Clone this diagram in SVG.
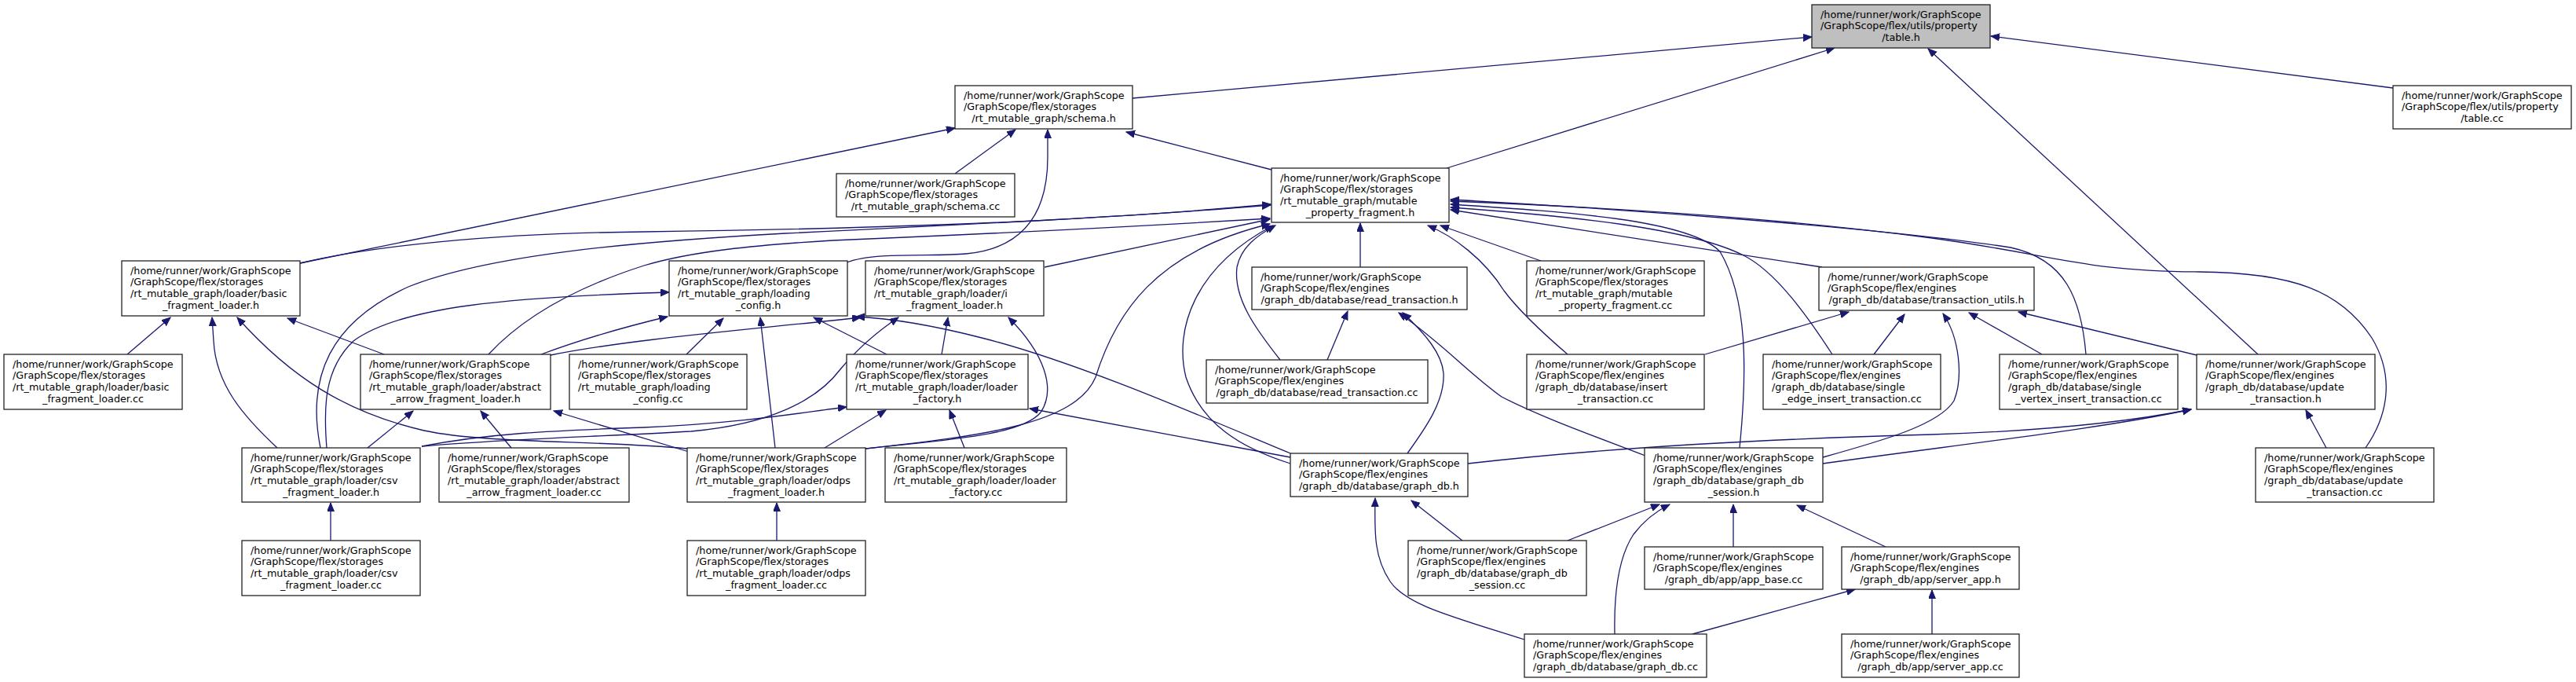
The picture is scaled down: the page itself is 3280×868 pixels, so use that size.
<svg xmlns="http://www.w3.org/2000/svg" width="3280" height="868" viewBox="0 0 3280 868">
<style>
.node rect{fill:#fff;stroke:#222;stroke-width:1.3}
.node.cur rect{fill:#bfbfbf}
text{font-family:"DejaVu Sans",sans-serif;font-size:12.75px;fill:#000}
text.c{text-anchor:middle}
.edges path{fill:none;stroke:#191970;stroke-width:1.3;marker-end:url(#ah)}
</style>
<defs>
<marker id="ah" markerUnits="userSpaceOnUse" markerWidth="12" markerHeight="10" refX="11" refY="4.5" orient="auto">
<path d="M0,0 L11,4.5 L0,9 z" fill="#191970" stroke="#191970" stroke-width="1"/>
</marker>
</defs>
<rect width="3280" height="868" fill="#fff"/>
<g class="edges" id="edges">
<path d="M1442,125 L2307,47"/>
<path d="M1842,214 L2336,61"/>
<path d="M2875,451 L2455,62"/>
<path d="M3047,112 L2535,46"/>
<path d="M382,335 L1216,163"/>
<path d="M1216,221 L1293,165"/>
<path d="M1078,334 C1115,320 1190,327 1230,323 C1305,316 1334,270 1334,200 L1334,165"/>
<path d="M1619,216 L1434,168"/>
<path d="M382,335 C470,314 620,297 820,295 C1050,292 1350,285 1618,260"/>
<path d="M408,570 C390,480 420,410 520,365 C620,325 800,308 1000,297 C1250,285 1450,275 1618,261"/>
<path d="M622,451 C660,410 720,370 820,338 C880,320 960,312 1060,306 C1300,296 1450,288 1617,278"/>
<path d="M1330,340 L1617,279"/>
<path d="M1732,340 L1732,284"/>
<path d="M1962,332 L1834,287"/>
<path d="M1630,458 C1600,420 1570,380 1575,340 C1580,315 1600,300 1624,287"/>
<path d="M1643,590 C1580,570 1530,540 1510,480 C1495,420 1520,340 1621,287"/>
<path d="M1102,571 C1250,555 1370,540 1395,480 C1420,400 1470,320 1617,285"/>
<path d="M1996,451 C1960,420 1930,390 1915,370 C1890,330 1850,300 1818,287"/>
<path d="M2215,570 C2225,470 2225,380 2190,320 C2150,280 2000,270 1847,260"/>
<path d="M2333,451 C2300,400 2260,345 2220,325 C2150,290 2000,275 1847,264"/>
<path d="M2656,451 C2650,380 2630,330 2560,315 C2400,290 2050,265 1847,254"/>
<path d="M3012,570 C3040,530 3050,480 3020,430 C2980,370 2920,347 2800,346 C2650,345 2620,325 2460,303 C2250,275 2000,262 1847,256"/>
<path d="M2320,340 L1847,267"/>
<path d="M162,451 L217,404"/>
<path d="M353,570 C310,530 275,490 272,434 L270,404"/>
<path d="M875,571 C760,560 620,565 540,548 C440,525 370,480 302,404"/>
<path d="M489,451 L366,405"/>
<path d="M689,451 C740,432 800,415 850,403"/>
<path d="M701,452 C800,432 950,420 1096,404"/>
<path d="M416,570 C412,520 412,470 450,434 C510,390 650,378 852,372"/>
<path d="M874,451 L921,405"/>
<path d="M987,570 L968,404"/>
<path d="M1129,451 L1036,404"/>
<path d="M1643,577 C1530,530 1370,460 1250,430 C1180,412 1130,405 1090,403"/>
<path d="M537,568 C650,558 760,556 880,549 C980,540 1040,510 1070,470 C1095,440 1120,420 1144,404"/>
<path d="M1199,451 L1207,404"/>
<path d="M1102,571 C1200,560 1300,555 1325,525 C1345,495 1330,450 1284,404"/>
<path d="M468,570 L526,523"/>
<path d="M651,570 L612,523"/>
<path d="M877,575 L705,523"/>
<path d="M537,568 C620,552 700,548 820,544 C950,538 1020,525 1078,518"/>
<path d="M1050,570 L1128,522"/>
<path d="M1228,570 L1209,522"/>
<path d="M1643,582 L1311,520"/>
<path d="M421,688 L421,640"/>
<path d="M989,688 L989,640"/>
<path d="M1690,458 L1716,396"/>
<path d="M1792,577 C1815,545 1840,510 1838,475 C1836,450 1815,425 1786,398"/>
<path d="M2095,580 C2030,555 1960,530 1912,505 C1870,475 1840,440 1781,398"/>
<path d="M2171,451 L2354,397"/>
<path d="M2386,451 L2425,400"/>
<path d="M2321,582 C2400,560 2470,540 2488,510 C2500,480 2495,430 2474,399"/>
<path d="M2600,451 L2507,398"/>
<path d="M2797,452 L2570,397"/>
<path d="M1869,590 C2000,575 2200,560 2460,553 C2620,548 2720,535 2790,521"/>
<path d="M2321,590 C2500,565 2680,545 2790,521"/>
<path d="M2962,570 L2936,522"/>
<path d="M1862,688 L1797,637"/>
<path d="M1941,814 C1850,785 1790,770 1770,740 C1750,710 1750,680 1751,634"/>
<path d="M1996,688 L2113,642"/>
<path d="M2056,807 C2055,760 2060,710 2080,680 C2095,660 2110,650 2126,642"/>
<path d="M2207,696 L2207,642"/>
<path d="M2401,696 L2288,643"/>
<path d="M2155,807 L2362,750"/>
<path d="M2460,807 L2460,751"/>
</g>
<g id="table_h" class="node cur"><rect x="2307" y="6" width="227" height="55"/><text x="2318" y="22.5">/home/runner/work/GraphScope</text><text x="2318" y="37.2">/GraphScope/flex/utils/property</text><text class="c" x="2420.5" y="51.8">/table.h</text></g>
<g id="schema_h" class="node"><rect x="1216" y="109" width="226" height="55"/><text x="1227" y="125.5">/home/runner/work/GraphScope</text><text x="1227" y="140.2">/GraphScope/flex/storages</text><text class="c" x="1329" y="154.8">/rt_mutable_graph/schema.h</text></g>
<g id="table_cc" class="node"><rect x="3047" y="109" width="227" height="55"/><text x="3058" y="125.5">/home/runner/work/GraphScope</text><text x="3058" y="140.2">/GraphScope/flex/utils/property</text><text class="c" x="3160.5" y="154.8">/table.cc</text></g>
<g id="schema_cc" class="node"><rect x="1065" y="221" width="227" height="55"/><text x="1076" y="237.5">/home/runner/work/GraphScope</text><text x="1076" y="252.2">/GraphScope/flex/storages</text><text class="c" x="1178.5" y="266.8">/rt_mutable_graph/schema.cc</text></g>
<g id="mutable_property_fragment_h" class="node"><rect x="1619" y="214" width="226" height="69"/><text x="1630" y="230.5">/home/runner/work/GraphScope</text><text x="1630" y="245.2">/GraphScope/flex/storages</text><text x="1630" y="259.8">/rt_mutable_graph/mutable</text><text class="c" x="1732" y="274.5">_property_fragment.h</text></g>
<g id="basic_fragment_loader_h" class="node"><rect x="155" y="332" width="227" height="70"/><text x="166" y="348.5">/home/runner/work/GraphScope</text><text x="166" y="363.2">/GraphScope/flex/storages</text><text x="166" y="377.8">/rt_mutable_graph/loader/basic</text><text class="c" x="268.5" y="392.5">_fragment_loader.h</text></g>
<g id="loading_config_h" class="node"><rect x="852" y="332" width="227" height="70"/><text x="863" y="348.5">/home/runner/work/GraphScope</text><text x="863" y="363.2">/GraphScope/flex/storages</text><text x="863" y="377.8">/rt_mutable_graph/loading</text><text class="c" x="965.5" y="392.5">_config.h</text></g>
<g id="i_fragment_loader_h" class="node"><rect x="1102" y="332" width="227" height="70"/><text x="1113" y="348.5">/home/runner/work/GraphScope</text><text x="1113" y="363.2">/GraphScope/flex/storages</text><text x="1113" y="377.8">/rt_mutable_graph/loader/i</text><text class="c" x="1215.5" y="392.5">_fragment_loader.h</text></g>
<g id="read_transaction_h" class="node"><rect x="1594" y="340" width="274" height="54"/><text x="1605" y="356.5">/home/runner/work/GraphScope</text><text x="1605" y="371.2">/GraphScope/flex/engines</text><text class="c" x="1731" y="385.8">/graph_db/database/read_transaction.h</text></g>
<g id="mutable_property_fragment_cc" class="node"><rect x="1944" y="332" width="226" height="70"/><text x="1955" y="348.5">/home/runner/work/GraphScope</text><text x="1955" y="363.2">/GraphScope/flex/storages</text><text x="1955" y="377.8">/rt_mutable_graph/mutable</text><text class="c" x="2057" y="392.5">_property_fragment.cc</text></g>
<g id="transaction_utils_h" class="node"><rect x="2316" y="340" width="274" height="55"/><text x="2327" y="356.5">/home/runner/work/GraphScope</text><text x="2327" y="371.2">/GraphScope/flex/engines</text><text class="c" x="2453" y="385.8">/graph_db/database/transaction_utils.h</text></g>
<g id="basic_fragment_loader_cc" class="node"><rect x="5" y="451" width="227" height="70"/><text x="16" y="467.5">/home/runner/work/GraphScope</text><text x="16" y="482.2">/GraphScope/flex/storages</text><text x="16" y="496.8">/rt_mutable_graph/loader/basic</text><text class="c" x="118.5" y="511.5">_fragment_loader.cc</text></g>
<g id="abstract_arrow_fragment_loader_h" class="node"><rect x="459" y="451" width="242" height="70"/><text x="470" y="467.5">/home/runner/work/GraphScope</text><text x="470" y="482.2">/GraphScope/flex/storages</text><text x="470" y="496.8">/rt_mutable_graph/loader/abstract</text><text class="c" x="580" y="511.5">_arrow_fragment_loader.h</text></g>
<g id="loading_config_cc" class="node"><rect x="725" y="451" width="226" height="70"/><text x="736" y="467.5">/home/runner/work/GraphScope</text><text x="736" y="482.2">/GraphScope/flex/storages</text><text x="736" y="496.8">/rt_mutable_graph/loading</text><text class="c" x="838" y="511.5">_config.cc</text></g>
<g id="loader_factory_h" class="node"><rect x="1078" y="451" width="231" height="70"/><text x="1089" y="467.5">/home/runner/work/GraphScope</text><text x="1089" y="482.2">/GraphScope/flex/storages</text><text x="1089" y="496.8">/rt_mutable_graph/loader/loader</text><text class="c" x="1193.5" y="511.5">_factory.h</text></g>
<g id="read_transaction_cc" class="node"><rect x="1536" y="458" width="282" height="55"/><text x="1547" y="474.5">/home/runner/work/GraphScope</text><text x="1547" y="489.2">/GraphScope/flex/engines</text><text class="c" x="1677" y="503.8">/graph_db/database/read_transaction.cc</text></g>
<g id="insert_transaction_cc" class="node"><rect x="1944" y="451" width="226" height="70"/><text x="1955" y="467.5">/home/runner/work/GraphScope</text><text x="1955" y="482.2">/GraphScope/flex/engines</text><text x="1955" y="496.8">/graph_db/database/insert</text><text class="c" x="2057" y="511.5">_transaction.cc</text></g>
<g id="single_edge_insert_transaction_cc" class="node"><rect x="2245" y="451" width="226" height="70"/><text x="2256" y="467.5">/home/runner/work/GraphScope</text><text x="2256" y="482.2">/GraphScope/flex/engines</text><text x="2256" y="496.8">/graph_db/database/single</text><text class="c" x="2358" y="511.5">_edge_insert_transaction.cc</text></g>
<g id="single_vertex_insert_transaction_cc" class="node"><rect x="2546" y="451" width="227" height="70"/><text x="2557" y="467.5">/home/runner/work/GraphScope</text><text x="2557" y="482.2">/GraphScope/flex/engines</text><text x="2557" y="496.8">/graph_db/database/single</text><text class="c" x="2659.5" y="511.5">_vertex_insert_transaction.cc</text></g>
<g id="update_transaction_h" class="node"><rect x="2797" y="451" width="227" height="70"/><text x="2808" y="467.5">/home/runner/work/GraphScope</text><text x="2808" y="482.2">/GraphScope/flex/engines</text><text x="2808" y="496.8">/graph_db/database/update</text><text class="c" x="2910.5" y="511.5">_transaction.h</text></g>
<g id="csv_fragment_loader_h" class="node"><rect x="308" y="570" width="227" height="69"/><text x="319" y="586.5">/home/runner/work/GraphScope</text><text x="319" y="601.2">/GraphScope/flex/storages</text><text x="319" y="615.8">/rt_mutable_graph/loader/csv</text><text class="c" x="421.5" y="630.5">_fragment_loader.h</text></g>
<g id="abstract_arrow_fragment_loader_cc" class="node"><rect x="559" y="570" width="242" height="69"/><text x="570" y="586.5">/home/runner/work/GraphScope</text><text x="570" y="601.2">/GraphScope/flex/storages</text><text x="570" y="615.8">/rt_mutable_graph/loader/abstract</text><text class="c" x="680" y="630.5">_arrow_fragment_loader.cc</text></g>
<g id="odps_fragment_loader_h" class="node"><rect x="875" y="570" width="227" height="69"/><text x="886" y="586.5">/home/runner/work/GraphScope</text><text x="886" y="601.2">/GraphScope/flex/storages</text><text x="886" y="615.8">/rt_mutable_graph/loader/odps</text><text class="c" x="988.5" y="630.5">_fragment_loader.h</text></g>
<g id="loader_factory_cc" class="node"><rect x="1127" y="570" width="231" height="69"/><text x="1138" y="586.5">/home/runner/work/GraphScope</text><text x="1138" y="601.2">/GraphScope/flex/storages</text><text x="1138" y="615.8">/rt_mutable_graph/loader/loader</text><text class="c" x="1242.5" y="630.5">_factory.cc</text></g>
<g id="graph_db_h" class="node"><rect x="1643" y="577" width="226" height="55"/><text x="1654" y="593.5">/home/runner/work/GraphScope</text><text x="1654" y="608.2">/GraphScope/flex/engines</text><text class="c" x="1756" y="622.8">/graph_db/database/graph_db.h</text></g>
<g id="graph_db_session_h" class="node"><rect x="2094" y="570" width="227" height="69"/><text x="2105" y="586.5">/home/runner/work/GraphScope</text><text x="2105" y="601.2">/GraphScope/flex/engines</text><text x="2105" y="615.8">/graph_db/database/graph_db</text><text class="c" x="2207.5" y="630.5">_session.h</text></g>
<g id="update_transaction_cc" class="node"><rect x="2872" y="570" width="227" height="69"/><text x="2883" y="586.5">/home/runner/work/GraphScope</text><text x="2883" y="601.2">/GraphScope/flex/engines</text><text x="2883" y="615.8">/graph_db/database/update</text><text class="c" x="2985.5" y="630.5">_transaction.cc</text></g>
<g id="csv_fragment_loader_cc" class="node"><rect x="308" y="688" width="227" height="70"/><text x="319" y="704.5">/home/runner/work/GraphScope</text><text x="319" y="719.2">/GraphScope/flex/storages</text><text x="319" y="733.8">/rt_mutable_graph/loader/csv</text><text class="c" x="421.5" y="748.5">_fragment_loader.cc</text></g>
<g id="odps_fragment_loader_cc" class="node"><rect x="875" y="688" width="227" height="70"/><text x="886" y="704.5">/home/runner/work/GraphScope</text><text x="886" y="719.2">/GraphScope/flex/storages</text><text x="886" y="733.8">/rt_mutable_graph/loader/odps</text><text class="c" x="988.5" y="748.5">_fragment_loader.cc</text></g>
<g id="graph_db_session_cc" class="node"><rect x="1793" y="688" width="227" height="70"/><text x="1804" y="704.5">/home/runner/work/GraphScope</text><text x="1804" y="719.2">/GraphScope/flex/engines</text><text x="1804" y="733.8">/graph_db/database/graph_db</text><text class="c" x="1906.5" y="748.5">_session.cc</text></g>
<g id="app_base_cc" class="node"><rect x="2094" y="696" width="227" height="54"/><text x="2105" y="712.5">/home/runner/work/GraphScope</text><text x="2105" y="727.2">/GraphScope/flex/engines</text><text class="c" x="2207.5" y="741.8">/graph_db/app/app_base.cc</text></g>
<g id="server_app_h" class="node"><rect x="2345" y="696" width="226" height="54"/><text x="2356" y="712.5">/home/runner/work/GraphScope</text><text x="2356" y="727.2">/GraphScope/flex/engines</text><text class="c" x="2458" y="741.8">/graph_db/app/server_app.h</text></g>
<g id="graph_db_cc" class="node"><rect x="1941" y="807" width="232" height="55"/><text x="1952" y="823.5">/home/runner/work/GraphScope</text><text x="1952" y="838.2">/GraphScope/flex/engines</text><text class="c" x="2057" y="852.8">/graph_db/database/graph_db.cc</text></g>
<g id="server_app_cc" class="node"><rect x="2345" y="807" width="226" height="55"/><text x="2356" y="823.5">/home/runner/work/GraphScope</text><text x="2356" y="838.2">/GraphScope/flex/engines</text><text class="c" x="2458" y="852.8">/graph_db/app/server_app.cc</text></g>
</svg>
